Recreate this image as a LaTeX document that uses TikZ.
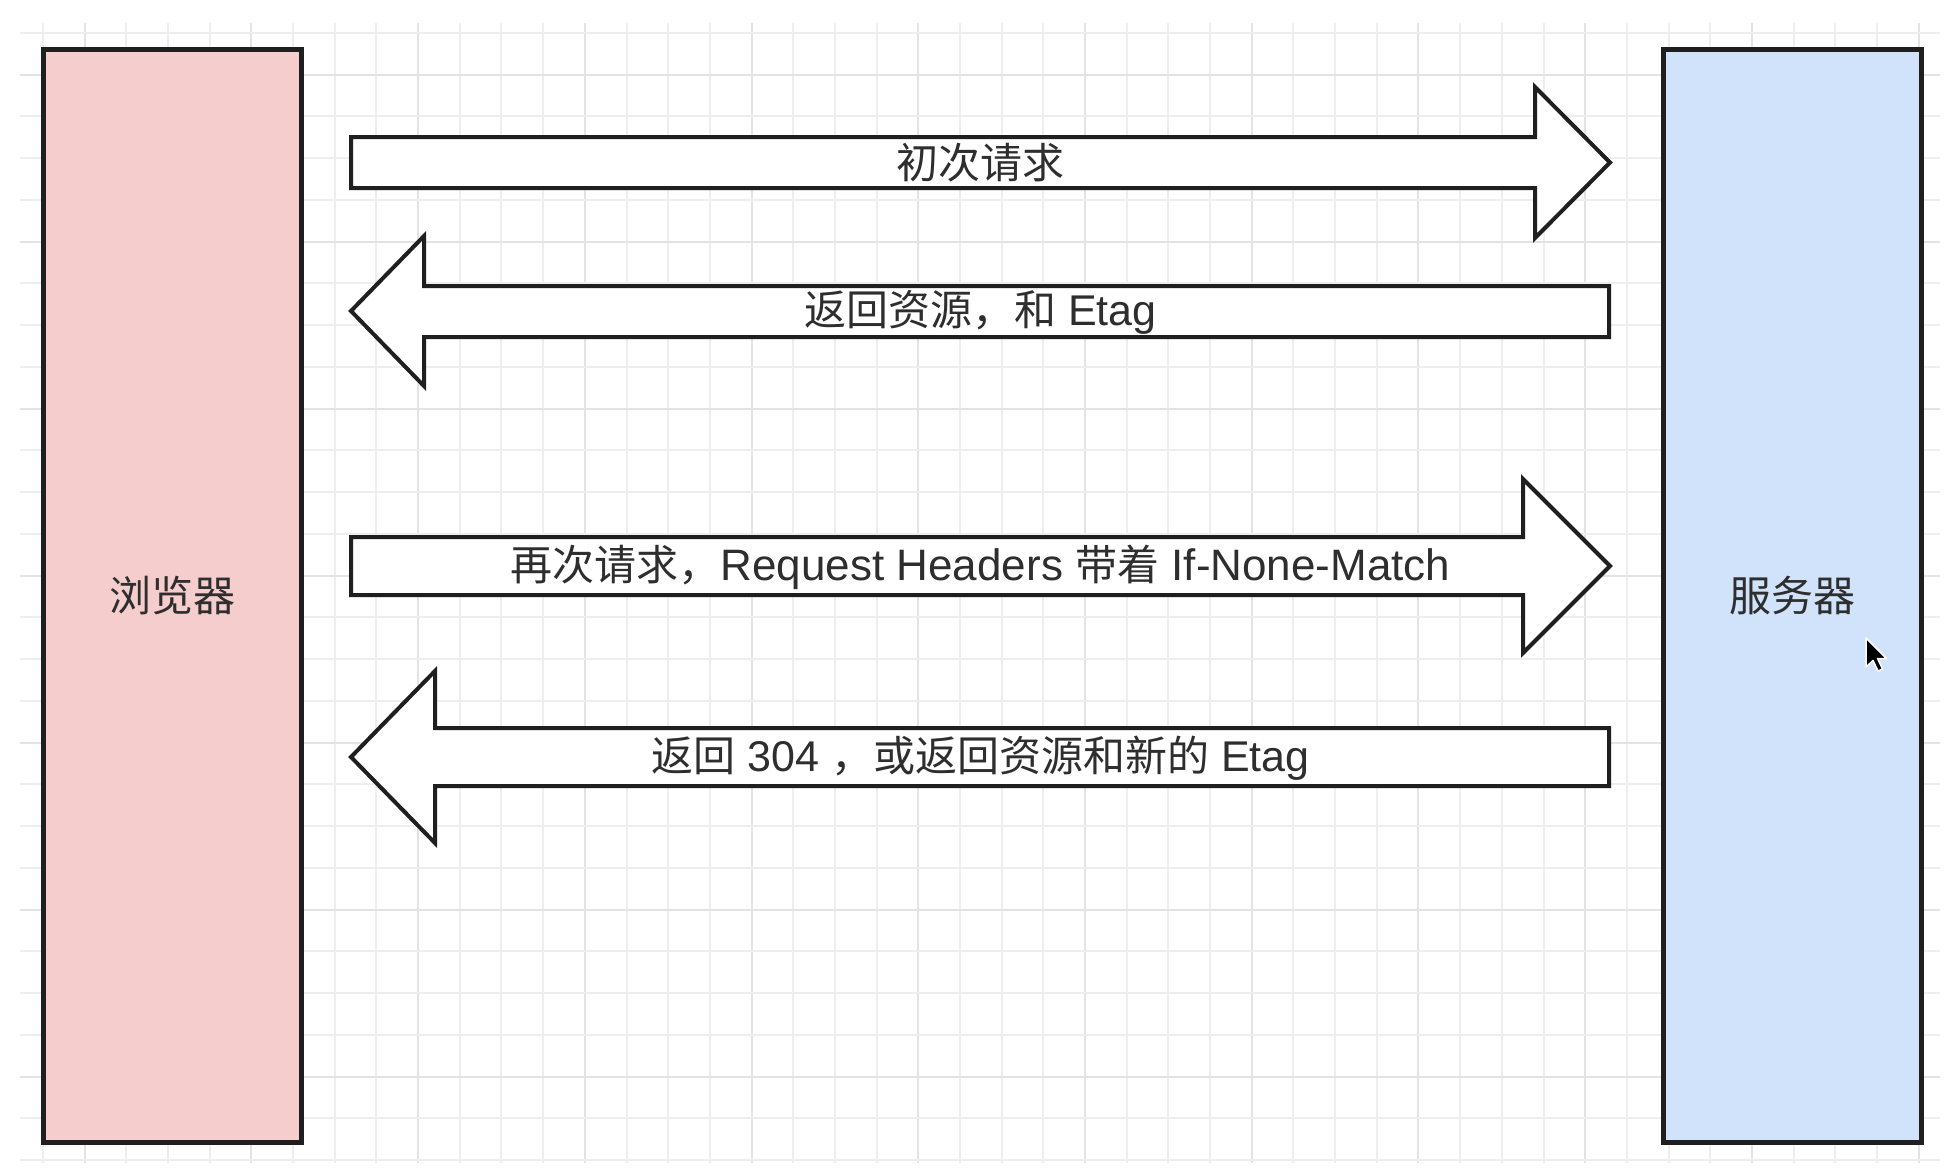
\documentclass[tikz,border=0pt]{standalone}
\usepackage{fontspec}
\setmainfont{Liberation Sans}
\newfontfamily\cjkraw{Noto Sans CJK SC}
\newcommand{\cjk}{\cjkraw\fontsize{42}{50}\selectfont}
\definecolor{gridminor}{HTML}{EEEEEE}
\definecolor{gridmajor}{HTML}{E3E3E3}
\definecolor{pinkfill}{HTML}{F5CDCD}
\definecolor{bluefill}{HTML}{D1E3FA}
\definecolor{txt}{HTML}{2E2E2E}
\tikzset{
  pane/.style={draw=black!88, line width=4.5pt, minimum width=258pt, minimum height=1093pt, inner sep=0pt, font=\cjk, text=txt},
  blockarrow/.style={draw=black!88, fill=white, line width=4pt, line join=miter},
  lbl/.style={inner sep=0pt, text=txt, font=\fontsize{43}{50}\selectfont},
  minorline/.style={draw=gridminor, line width=2pt},
  majorline/.style={draw=gridmajor, line width=2pt},
  pointer/.style={fill=black, draw=white, line width=1.5pt, line join=round}
}
\begin{document}
\begin{tikzpicture}[x=1pt,y=-1pt]
\useasboundingbox (0,0) rectangle (1950,1168);
\fill[white] (0,0) rectangle (1950,1168);
% grid
\foreach \k in {0,...,45}{
  \pgfmathsetmacro{\gx}{43+\k*41.68}
  \pgfmathtruncatemacro{\m}{mod(\k,4)}
  \ifnum\m=1
    \draw[majorline] (\gx,23) -- (\gx,1163);
  \else
    \draw[minorline] (\gx,23) -- (\gx,1163);
  \fi
}
\foreach \k in {0,...,27}{
  \pgfmathsetmacro{\gy}{33+\k*41.74}
  \pgfmathtruncatemacro{\m}{mod(\k,4)}
  \ifnum\m=1
    \draw[majorline] (20,\gy) -- (1940,\gy);
  \else
    \draw[minorline] (20,\gy) -- (1940,\gy);
  \fi
}
% boxes
\node[pane, fill=pinkfill] (browser) at (172.5,596) {浏览器};
\node[pane, fill=bluefill] (server) at (1792.5,596) {服务器};
% arrow 1: right
\draw[blockarrow] (351,137) -- (1535,137) -- (1535,87) -- (1610,162.5) -- (1535,238) -- (1535,188) -- (351,188) -- cycle;
\node[lbl] (a1) at (980.5,163) {{\cjk 初次请求}};
% arrow 2: left
\draw[blockarrow] (1609,286) -- (424,286) -- (424,236) -- (351,311) -- (424,386) -- (424,337) -- (1609,337) -- cycle;
\node[lbl] (a2) at (980.5,312) {{\cjk 返回资源，和} Etag};
% arrow 3: right
\draw[blockarrow] (351,537) -- (1523,537) -- (1523,479) -- (1610,566) -- (1523,653) -- (1523,595) -- (351,595) -- cycle;
\node[lbl, font=\fontsize{44}{50}\selectfont] (a3) at (980.5,567) {{\cjk 再次请求，}Request Headers {\cjk 带着} If-None-Match};
% arrow 4: left
\draw[blockarrow] (1609,728) -- (435,728) -- (435,671) -- (351,757) -- (435,843) -- (435,786) -- (1609,786) -- cycle;
\node[lbl] (a4) at (980.5,758) {{\cjk 返回} 304 {\cjk ，或返回资源和新的} Etag};
% mouse pointer
\begin{scope}[shift={(1866,638)}]
\draw[pointer] (0,0) -- (0,29) -- (7,22.5) -- (12,33) -- (16.5,31) -- (11.5,20.5) -- (20.5,20.5) -- cycle;
\end{scope}
\end{tikzpicture}
\end{document}
